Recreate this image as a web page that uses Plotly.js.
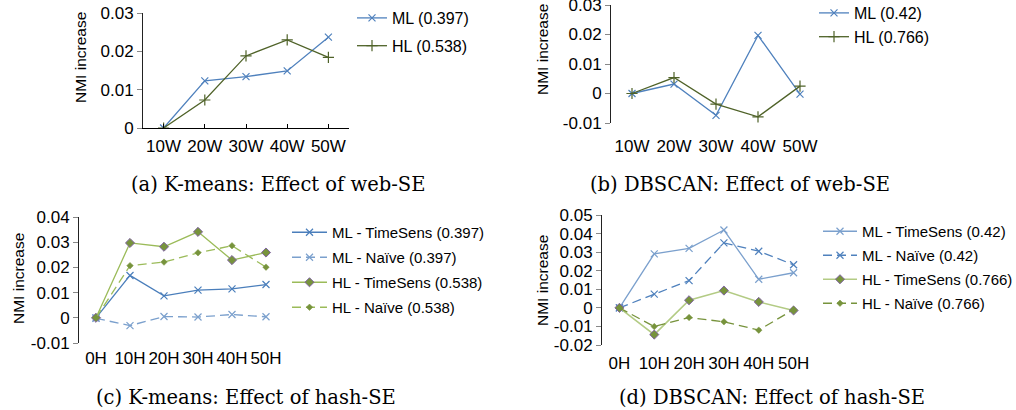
<!DOCTYPE html>
<html><head><meta charset="utf-8">
<script src="https://cdn.plot.ly/plotly-3.0.1.min.js"></script>
<style>html,body{margin:0;padding:0;background:#fff}#chart{width:1016px;height:410px}</style>
</head><body><div id="chart"></div>
<script>
// ---- data ----
const webCats = ['10W','20W','30W','40W','50W'];
const hashCats = ['0H','10H','20H','30H','40H','50H'];

const kmWebML = [0, 0.0123, 0.0134, 0.0149, 0.0237];
const kmWebHL = [0, 0.0073, 0.0188, 0.0230, 0.0184];
const dbWebML = [0, 0.0032, -0.0074, 0.0197, -0.0002];
const dbWebHL = [0, 0.0054, -0.0036, -0.0079, 0.0025];

const kmHashMLTime  = [0, 0.0168, 0.0087, 0.0110, 0.0115, 0.0132];
const kmHashMLNaive = [-0.0002, -0.0031, 0.0005, 0.0003, 0.0013, 0.0004];
const kmHashHLTime  = [0, 0.0297, 0.0282, 0.0341, 0.0229, 0.0259];
const kmHashHLNaive = [0, 0.0207, 0.0221, 0.0258, 0.0286, 0.0201];

const dbHashMLTime  = [0, 0.0291, 0.0320, 0.0419, 0.0154, 0.0189];
const dbHashMLNaive = [0, 0.0074, 0.0147, 0.0350, 0.0305, 0.0232];
const dbHashHLTime  = [0, -0.0144, 0.0041, 0.0093, 0.0032, -0.0014];
const dbHashHLNaive = [0, -0.0101, -0.0052, -0.0075, -0.0120, -0.0009];

const namesKmWeb = ['ML (0.397)', 'HL (0.538)'];
const namesDbWeb = ['ML (0.42)', 'HL (0.766)'];
const namesKmHash = ['ML - TimeSens (0.397)', 'ML - Naïve (0.397)', 'HL - TimeSens (0.538)', 'HL - Naïve (0.538)'];
const namesDbHash = ['ML - TimeSens (0.42)', 'ML - Naïve (0.42)', 'HL - TimeSens (0.766)', 'HL - Naïve (0.766)'];

const kmWebTickVals = [0, 0.01, 0.02, 0.03];
const kmWebTickText = ['0', '0.01', '0.02', '0.03'];
const dbWebTickVals = [-0.01, 0, 0.01, 0.02, 0.03];
const dbWebTickText = ['-0.01', '0', '0.01', '0.02', '0.03'];
const kmHashTickVals = [-0.01, 0, 0.01, 0.02, 0.03, 0.04];
const kmHashTickText = ['-0.01', '0', '0.01', '0.02', '0.03', '0.04'];
const dbHashTickVals = [-0.02, -0.01, 0, 0.01, 0.02, 0.03, 0.04, 0.05];
const dbHashTickText = ['-0.02', '-0.01', '0', '0.01', '0.02', '0.03', '0.04', '0.05'];

const yTitle = 'NMI increase';
const captions = ['(a) K-means: Effect of web-SE', '(b) DBSCAN: Effect of web-SE',
                  '(c) K-means: Effect of hash-SE', '(d) DBSCAN: Effect of hash-SE'];

// ---- layout geometry (pixels -> paper) ----
const W = 1016, H = 410;
const px = v => v / W, py = v => 1 - v / H;
const dom = {
  a: {x: [px(143), px(349)], y: [py(128), py(13)], r: [0, 0.03]},
  b: {x: [px(611), px(821)], y: [py(123), py(5)], r: [-0.01, 0.03]},
  c: {x: [px(79), px(283)], y: [py(343), py(217)], r: [-0.01, 0.04]},
  d: {x: [px(602), px(811)], y: [py(345), py(215)], r: [-0.02, 0.05]}
};
const zeroPos = d => d.y[0] + (0 - d.r[0]) / (d.r[1] - d.r[0]) * (d.y[1] - d.y[0]);

const BLUE = '#4F81BD', BLUE_D = '#4A7EBB', BLUE_L = '#7BA0CD';
const OLIVE = '#4F6228', GREEN = '#9BBB59', GREEN_D = '#77933C', GREEN_L = '#B3CB84', PURPLE = '#8064A2';
const FONT = 'Arial';
const DASH = '9px,5px';

function tr(x, y, name, xa, ya, legend, group, line, marker) {
  return {x, y, name, xaxis: xa, yaxis: ya, legend, legendgroup: group,
          type: 'scatter', mode: 'lines+markers', line, marker, hoverinfo: 'skip'};
}

const data = [
  tr(webCats, kmWebML, namesKmWeb[0], 'x', 'y', 'legend', 'a1',
     {color: BLUE, width: 1.3}, {symbol: 'x-thin-open', size: 7, line: {color: BLUE, width: 1.2}}),
  tr(webCats, kmWebHL, namesKmWeb[1], 'x', 'y', 'legend', 'a2',
     {color: OLIVE, width: 1.3}, {symbol: 'cross-thin-open', size: 8, line: {color: OLIVE, width: 1.2}}),

  tr(webCats, dbWebML, namesDbWeb[0], 'x2', 'y2', 'legend2', 'b1',
     {color: BLUE, width: 1.3}, {symbol: 'x-thin-open', size: 7, line: {color: BLUE, width: 1.2}}),
  tr(webCats, dbWebHL, namesDbWeb[1], 'x2', 'y2', 'legend2', 'b2',
     {color: OLIVE, width: 1.3}, {symbol: 'cross-thin-open', size: 8, line: {color: OLIVE, width: 1.2}}),

  tr(hashCats, kmHashMLTime, namesKmHash[0], 'x3', 'y3', 'legend3', 'c1',
     {color: BLUE_D, width: 1.3}, {symbol: 'x-thin-open', size: 7, line: {color: BLUE_D, width: 1.2}}),
  tr(hashCats, kmHashMLNaive, namesKmHash[1], 'x3', 'y3', 'legend3', 'c2',
     {color: BLUE_L, width: 1.3, dash: DASH}, {symbol: 'x-thin-open', size: 7, line: {color: BLUE_L, width: 1.2}}),
  tr(hashCats, kmHashHLTime, namesKmHash[2], 'x3', 'y3', 'legend3', 'c3',
     {color: GREEN, width: 1.3}, {symbol: 'diamond', size: 7, color: GREEN_D, line: {color: PURPLE, width: 1}}),
  tr(hashCats, kmHashHLNaive, namesKmHash[3], 'x3', 'y3', 'legend3', 'c4',
     {color: GREEN, width: 1.3, dash: DASH}, {symbol: 'diamond', size: 5, color: GREEN_D, line: {color: GREEN_D, width: 0.5}}),

  tr(hashCats, dbHashMLTime, namesDbHash[0], 'x4', 'y4', 'legend4', 'd1',
     {color: BLUE_L, width: 1.3}, {symbol: 'x-thin-open', size: 7, line: {color: BLUE_L, width: 1.2}}),
  tr(hashCats, dbHashMLNaive, namesDbHash[1], 'x4', 'y4', 'legend4', 'd2',
     {color: BLUE, width: 1.3, dash: DASH}, {symbol: 'x-thin-open', size: 7, line: {color: BLUE, width: 1.2}}),
  tr(hashCats, dbHashHLTime, namesDbHash[2], 'x4', 'y4', 'legend4', 'd3',
     {color: GREEN_L, width: 1.6}, {symbol: 'diamond', size: 7, color: GREEN_D, line: {color: PURPLE, width: 1}}),
  tr(hashCats, dbHashHLNaive, namesDbHash[3], 'x4', 'y4', 'legend4', 'd4',
     {color: GREEN_D, width: 1.3, dash: DASH}, {symbol: 'diamond', size: 5, color: GREEN_D, line: {color: GREEN_D, width: 0.5}})
];

function xAxis(d, n, anchor, standoff, withLine) {
  return {domain: d.x, anchor, type: 'category', range: [-0.5, n - 0.5],
          showline: withLine, linecolor: '#000', linewidth: 1,
          ticks: withLine ? 'inside' : '', ticklen: 4, tickcolor: '#000', tickwidth: 1,
          showgrid: false, zeroline: false, fixedrange: true,
          tickfont: {family: FONT, size: 17, color: '#000'}, ticklabelstandoff: standoff};
}
function zeroAxis(d, n, over) {
  return {domain: d.x, overlaying: over, anchor: 'free', position: zeroPos(d),
          type: 'linear', range: [-0.5, n - 0.5], tickvals: [...Array(n).keys()],
          showticklabels: false, showline: true, linecolor: '#000', linewidth: 1,
          ticks: 'inside', ticklen: 4, tickcolor: '#000', tickwidth: 1,
          showgrid: false, zeroline: false, fixedrange: true};
}
function yAxis(d, anchor, vals, text) {
  return {domain: d.y, anchor, range: d.r, tickvals: vals, ticktext: text,
          showline: true, linecolor: '#222', linewidth: 1,
          ticks: 'outside', ticklen: 5, tickcolor: '#888', tickwidth: 1,
          showgrid: false, zeroline: false, fixedrange: true, ticklabeloverflow: 'allow',
          tickfont: {family: FONT, size: 17, color: '#000'}};
}
function leg(xpx, ypx, gap, iw, fs) {
  return {x: px(xpx), y: py(ypx), xanchor: 'left', yanchor: 'top', traceorder: 'grouped',
          tracegroupgap: gap, itemwidth: iw, bgcolor: 'rgba(0,0,0,0)', borderwidth: 0,
          font: {family: FONT, size: fs, color: '#000'}};
}
function capt(text, xpx, ypx) {
  return {text, x: px(xpx), y: py(ypx), xref: 'paper', yref: 'paper', showarrow: false,
          xanchor: 'center', yanchor: 'middle', font: {family: 'DejaVu Serif, serif', size: 19.5, color: '#000'}};
}
function ytitle(xpx, ypx) {
  return {text: yTitle, x: px(xpx), y: py(ypx), xref: 'paper', yref: 'paper', showarrow: false,
          textangle: -90, xanchor: 'center', yanchor: 'middle', font: {family: FONT, size: 15.5, color: '#000'}};
}

const layout = {
  width: W, height: H, margin: {l: 0, r: 0, t: 0, b: 0, autoexpand: false},
  paper_bgcolor: '#fff', plot_bgcolor: 'rgba(0,0,0,0)', showlegend: true,
  xaxis: xAxis(dom.a, webCats.length, 'y', 3, true),
  yaxis: yAxis(dom.a, 'x', kmWebTickVals, kmWebTickText),
  xaxis2: xAxis(dom.b, webCats.length, 'y2', 11, false),
  yaxis2: yAxis(dom.b, 'x2', dbWebTickVals, dbWebTickText),
  xaxis3: xAxis(dom.c, hashCats.length, 'y3', 3, false),
  yaxis3: yAxis(dom.c, 'x3', kmHashTickVals, kmHashTickText),
  xaxis4: xAxis(dom.d, hashCats.length, 'y4', 6, false),
  yaxis4: yAxis(dom.d, 'x4', dbHashTickVals, dbHashTickText),
  xaxis5: zeroAxis(dom.b, webCats.length, 'x2'),
  xaxis6: zeroAxis(dom.c, hashCats.length, 'x3'),
  xaxis7: zeroAxis(dom.d, hashCats.length, 'x4'),
  legend: leg(352, 1, 4, 30, 16),
  legend2: leg(814, -4, 0, 30, 16),
  legend3: leg(287, 216, 2.5, 35, 15),
  legend4: leg(818, 215, 1.5, 34, 15),
  annotations: [
    capt(captions[0], 278, 185), capt(captions[1], 740, 185),
    capt(captions[2], 246, 397), capt(captions[3], 772, 397),
    ytitle(80, 58), ytitle(542, 50), ytitle(18, 279), ytitle(542, 281)
  ]
};

Plotly.newPlot('chart', data, layout, {staticPlot: true, displayModeBar: false});
</script></body></html>
